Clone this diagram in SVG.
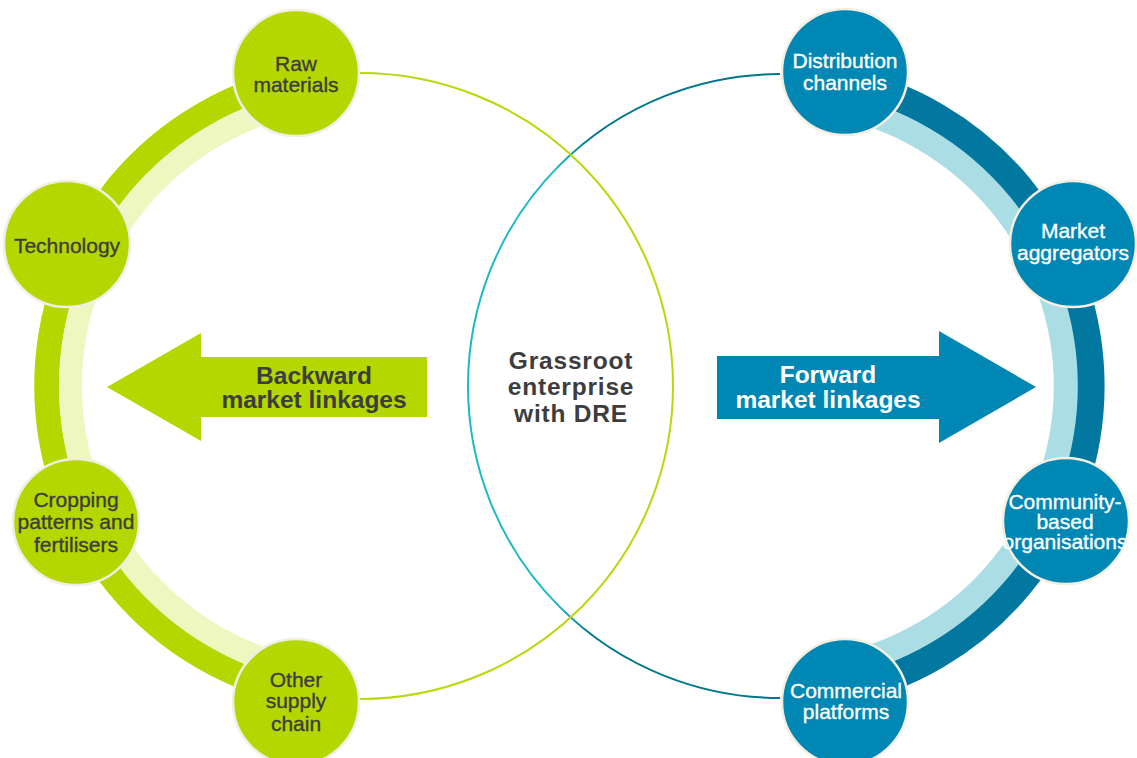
<svg xmlns="http://www.w3.org/2000/svg" width="1137" height="758" viewBox="0 0 1137 758">
<defs>
<linearGradient id="tealLine" gradientUnits="userSpaceOnUse" x1="555" y1="0" x2="590" y2="0">
<stop offset="0" stop-color="#1cb9c6"/>
<stop offset="1" stop-color="#00788c"/>
</linearGradient>
<style>
.lnode{fill:#b4d700;stroke:#f2eee6;stroke-width:2.5}
.tnode{fill:#0187b3;stroke:#f5efe2;stroke-width:2.5}
.lt{font-family:"Liberation Sans",Arial,sans-serif;font-size:21px;fill:#3d3d3f;stroke:#3d3d3f;stroke-width:0.35;text-anchor:middle}
.tt{font-family:"Liberation Sans",Arial,sans-serif;font-size:21px;fill:#ffffff;stroke:#ffffff;stroke-width:0.35;text-anchor:middle}
.big{font-family:"Liberation Sans",Arial,sans-serif;font-size:24.5px;font-weight:bold;text-anchor:middle}
.ring{fill:none}
</style>
</defs>
<rect width="1137" height="758" fill="#ffffff"/>
<g id="connectors">
<path class="ring" d="M 300.2 78.3 A 313.5 313.5 0 0 0 300.2 693.7" stroke="#b4d700" stroke-width="25"/>
<path class="ring" d="M 304.8 101.8 A 289.5 289.5 0 0 0 304.8 670.2" stroke="#eef7c0" stroke-width="23"/>
<path class="ring" d="M 839.5 80 A 312 312 0 0 1 839.5 692" stroke="#02779f" stroke-width="28"/>
<path class="ring" d="M 834.6 105.3 A 286 286 0 0 1 834.6 666.7" stroke="#aadde4" stroke-width="24"/>
<path class="ring" d="M 780 74 A 312 312 0 0 0 780 698" stroke="url(#tealLine)" stroke-width="2"/>
<path class="ring" d="M 360 73 A 313 313 0 0 1 360 699" stroke="#b8d80a" stroke-width="2"/>
</g>
<g id="backward-arrow">
<polygon points="427,357 201,357 201,333 107,387 201,441 201,417 427,417" fill="#b4d700"/>
<text class="big" x="314" y="384" fill="#3d3d3f">Backward</text>
<text class="big" x="314" y="408" fill="#3d3d3f">market linkages</text>
</g>
<g id="forward-arrow">
<polygon points="717,356 939,356 939,331 1036,387 939,443 939,419 717,419" fill="#0187b3"/>
<text class="big" x="828" y="383" fill="#ffffff">Forward</text>
<text class="big" x="828" y="408" fill="#ffffff">market linkages</text>
</g>
<g id="center">
<text class="big" x="571" y="369" fill="#3d3d3f" font-size="26" letter-spacing="0.8">Grassroot</text>
<text class="big" x="571" y="395" fill="#3d3d3f" font-size="26" letter-spacing="0.8">enterprise</text>
<text class="big" x="571" y="422" fill="#3d3d3f" font-size="26" letter-spacing="0.8">with DRE</text>
</g>
<g id="raw-materials">
<circle class="lnode" cx="296" cy="73" r="63"/>
<text class="lt" x="296" y="71">Raw</text>
<text class="lt" x="296" y="92">materials</text>
</g>
<g id="technology">
<circle class="lnode" cx="67" cy="244" r="63"/>
<text class="lt" x="67" y="253">Technology</text>
</g>
<g id="cropping">
<circle class="lnode" cx="76" cy="522" r="63"/>
<text class="lt" x="76" y="507">Cropping</text>
<text class="lt" x="76" y="529">patterns and</text>
<text class="lt" x="76" y="552">fertilisers</text>
</g>
<g id="other-supply">
<circle class="lnode" cx="296" cy="702" r="63"/>
<text class="lt" x="296" y="687">Other</text>
<text class="lt" x="296" y="708">supply</text>
<text class="lt" x="296" y="731">chain</text>
</g>
<g id="distribution">
<circle class="tnode" cx="845" cy="72" r="63"/>
<text class="tt" x="845" y="68">Distribution</text>
<text class="tt" x="845" y="90">channels</text>
</g>
<g id="market-aggregators">
<circle class="tnode" cx="1073" cy="244" r="63"/>
<text class="tt" x="1073" y="238">Market</text>
<text class="tt" x="1073" y="260">aggregators</text>
</g>
<g id="community">
<circle class="tnode" cx="1066" cy="521" r="63"/>
<text class="tt" x="1065" y="509" font-size="18.5">Community-</text>
<text class="tt" x="1065" y="529" font-size="18.5">based</text>
<text class="tt" x="1065" y="549" font-size="18.5">organisations</text>
</g>
<g id="commercial">
<circle class="tnode" cx="845" cy="702" r="63"/>
<text class="tt" x="846" y="698">Commercial</text>
<text class="tt" x="846" y="719">platforms</text>
</g>
</svg>
